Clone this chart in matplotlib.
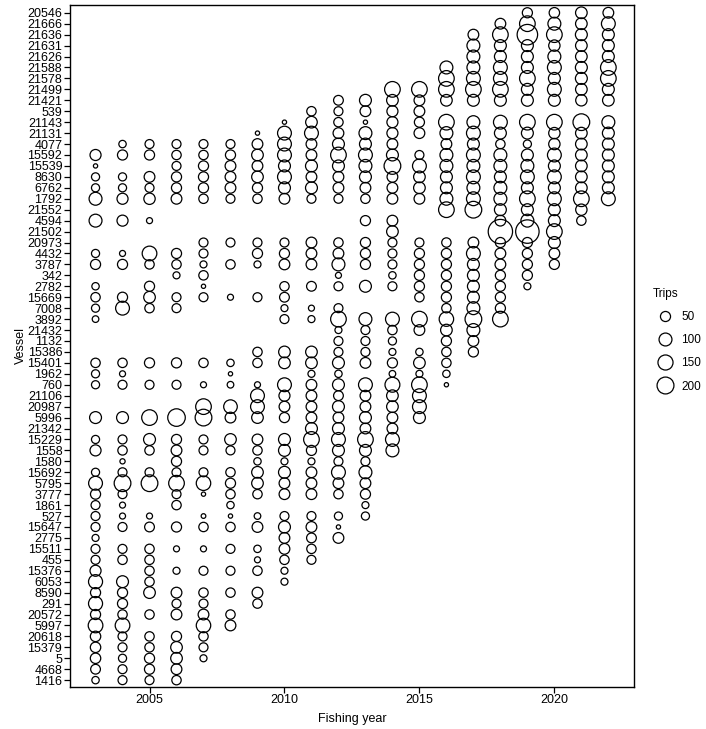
import numpy as np
import matplotlib.pyplot as plt
from matplotlib.lines import Line2D

plt.rcParams['font.family'] = ['Liberation Sans', 'DejaVu Sans']

vessels = ['20546', '21666', '21636', '21631', '21626', '21588', '21578', '21499',
           '21421', '539', '21143', '21131', '4077', '15592', '15539', '8630',
           '6762', '1792', '21552', '4594', '21502', '20973', '4432', '3787',
           '342', '2782', '15669', '7008', '3892', '21432', '1132', '15386',
           '15401', '1962', '760', '21106', '20987', '5996', '21342', '15229',
           '1558', '1580', '15692', '5795', '3777', '1861', '527', '15647',
           '2775', '15511', '455', '15376', '6053', '8590', '291', '20572',
           '5997', '20618', '15379', '5', '4668', '1416']

years = list(range(2003, 2023))

# trips per vessel (rows) and fishing year (columns 2003..2022); 0 = no trips
trips = [
    [0, 0, 0, 0, 0, 0, 0, 0, 0, 0, 0, 0, 0, 0, 0, 0, 50, 55, 75, 60],
    [0, 0, 0, 0, 0, 0, 0, 0, 0, 0, 0, 0, 0, 0, 0, 60, 165, 100, 75, 120],
    [0, 0, 0, 0, 0, 0, 0, 0, 0, 0, 0, 0, 0, 0, 60, 165, 320, 165, 80, 80],
    [0, 0, 0, 0, 0, 0, 0, 0, 0, 0, 0, 0, 0, 0, 100, 80, 80, 70, 75, 80],
    [0, 0, 0, 0, 0, 0, 0, 0, 0, 0, 0, 0, 0, 0, 100, 80, 80, 100, 75, 80],
    [0, 0, 0, 0, 0, 0, 0, 0, 0, 0, 0, 0, 0, 100, 100, 120, 80, 120, 80, 165],
    [0, 0, 0, 0, 0, 0, 0, 0, 0, 0, 0, 0, 0, 165, 120, 120, 165, 80, 80, 165],
    [0, 0, 0, 0, 0, 0, 0, 0, 0, 0, 0, 165, 165, 165, 165, 165, 80, 120, 75, 80],
    [0, 0, 0, 0, 0, 0, 0, 0, 0, 45, 80, 75, 60, 75, 80, 80, 80, 80, 70, 75],
    [0, 0, 0, 0, 0, 0, 0, 0, 40, 35, 60, 65, 60, 0, 0, 0, 0, 0, 0, 0],
    [0, 0, 0, 0, 0, 0, 0, 1, 75, 40, 1, 65, 50, 165, 100, 120, 165, 165, 195, 100],
    [0, 0, 0, 0, 0, 0, 1, 120, 120, 60, 100, 65, 60, 100, 120, 80, 80, 70, 75, 80],
    [0, 18, 35, 35, 35, 35, 60, 120, 60, 80, 80, 60, 0, 60, 80, 40, 25, 70, 75, 80],
    [65, 50, 50, 40, 40, 50, 75, 120, 60, 165, 120, 80, 35, 100, 120, 100, 80, 120, 75, 80],
    [1, 0, 0, 35, 50, 60, 60, 80, 80, 80, 100, 195, 120, 100, 100, 100, 100, 80, 75, 80],
    [25, 25, 60, 50, 50, 60, 75, 120, 60, 60, 80, 60, 75, 80, 120, 80, 120, 120, 75, 80],
    [25, 25, 35, 50, 50, 60, 50, 80, 80, 60, 60, 60, 75, 80, 100, 100, 80, 80, 75, 80],
    [100, 65, 70, 60, 40, 35, 40, 60, 35, 35, 40, 60, 60, 100, 120, 100, 165, 120, 165, 120],
    [0, 0, 0, 0, 0, 0, 0, 0, 0, 0, 0, 0, 0, 165, 195, 80, 80, 80, 70, 0],
    [100, 65, 8, 0, 0, 0, 0, 0, 0, 0, 50, 60, 0, 0, 0, 60, 100, 80, 40, 0],
    [0, 0, 0, 0, 0, 0, 0, 0, 0, 0, 0, 75, 0, 0, 0, 480, 440, 165, 0, 0],
    [0, 0, 0, 0, 35, 35, 35, 35, 60, 40, 50, 35, 35, 40, 60, 50, 50, 80, 0, 0],
    [25, 8, 140, 50, 35, 0, 50, 50, 60, 60, 50, 35, 50, 50, 120, 60, 50, 60, 0, 0],
    [50, 50, 40, 40, 15, 40, 15, 60, 60, 100, 50, 35, 50, 50, 80, 60, 50, 50, 0, 0],
    [0, 0, 0, 15, 40, 0, 0, 0, 0, 8, 0, 18, 50, 50, 80, 50, 50, 0, 0, 0],
    [18, 0, 50, 0, 1, 0, 0, 40, 45, 35, 80, 35, 50, 50, 80, 50, 15, 0, 0, 0],
    [40, 50, 75, 35, 35, 8, 35, 45, 0, 0, 0, 0, 40, 50, 80, 50, 0, 0, 0, 0],
    [25, 120, 40, 35, 0, 0, 0, 15, 8, 35, 0, 0, 0, 40, 100, 50, 0, 0, 0, 0],
    [12, 0, 0, 0, 0, 0, 0, 35, 15, 165, 100, 120, 165, 135, 195, 165, 0, 0, 0, 0],
    [0, 0, 0, 0, 0, 0, 0, 0, 0, 15, 35, 40, 60, 75, 100, 0, 0, 0, 0, 0],
    [0, 0, 0, 0, 0, 0, 0, 0, 0, 35, 35, 25, 0, 50, 60, 0, 0, 0, 0, 0],
    [0, 0, 0, 0, 0, 0, 40, 75, 75, 35, 35, 15, 18, 40, 50, 0, 0, 0, 0, 0],
    [40, 40, 50, 50, 40, 18, 40, 75, 75, 80, 60, 50, 75, 40, 0, 0, 0, 0, 0, 0],
    [25, 8, 0, 0, 0, 1, 0, 0, 15, 18, 0, 12, 15, 18, 0, 0, 0, 0, 0, 0],
    [25, 35, 35, 35, 8, 12, 8, 120, 60, 80, 120, 145, 165, 1, 0, 0, 0, 0, 0, 0],
    [0, 0, 0, 0, 0, 0, 120, 65, 60, 45, 60, 75, 120, 0, 0, 0, 0, 0, 0, 0],
    [0, 0, 0, 0, 165, 115, 120, 60, 60, 80, 60, 75, 120, 0, 0, 0, 0, 0, 0, 0],
    [80, 80, 165, 220, 195, 60, 75, 50, 60, 60, 80, 60, 80, 0, 0, 0, 0, 0, 0, 0],
    [0, 0, 0, 0, 0, 0, 0, 0, 80, 80, 60, 60, 0, 0, 0, 0, 0, 0, 0, 0],
    [25, 35, 80, 50, 35, 75, 60, 80, 165, 120, 165, 120, 0, 0, 0, 0, 0, 0, 0, 0],
    [65, 40, 40, 60, 35, 35, 40, 80, 50, 80, 80, 100, 0, 0, 0, 0, 0, 0, 0, 0],
    [0, 4, 0, 50, 0, 0, 18, 15, 15, 35, 35, 0, 0, 0, 0, 0, 0, 0, 0, 0],
    [25, 35, 35, 35, 35, 40, 75, 80, 60, 120, 100, 0, 0, 0, 0, 0, 0, 0, 0, 0],
    [120, 195, 195, 165, 135, 50, 75, 60, 60, 60, 60, 0, 0, 0, 0, 0, 0, 0, 0, 0],
    [50, 35, 0, 35, 1, 40, 40, 60, 60, 40, 50, 0, 0, 0, 0, 0, 0, 0, 0, 0],
    [35, 8, 0, 40, 0, 18, 0, 0, 0, 0, 15, 0, 0, 0, 0, 0, 0, 0, 0, 0],
    [35, 8, 8, 0, 2, 1, 12, 35, 35, 25, 25, 0, 0, 0, 0, 0, 0, 0, 0, 0],
    [35, 35, 45, 50, 40, 40, 60, 80, 60, 1, 0, 0, 0, 0, 0, 0, 0, 0, 0, 0],
    [15, 0, 0, 0, 0, 0, 0, 60, 45, 60, 0, 0, 0, 0, 0, 0, 0, 0, 0, 0],
    [35, 35, 40, 8, 8, 35, 18, 60, 40, 0, 0, 0, 0, 0, 0, 0, 0, 0, 0, 0],
    [35, 40, 40, 0, 0, 0, 8, 40, 35, 0, 0, 0, 0, 0, 0, 0, 0, 0, 0, 0],
    [65, 0, 40, 15, 35, 35, 40, 15, 0, 0, 0, 0, 0, 0, 0, 0, 0, 0, 0, 0],
    [125, 80, 40, 0, 0, 0, 0, 15, 0, 0, 0, 0, 0, 0, 0, 0, 0, 0, 0, 0],
    [50, 50, 75, 60, 40, 40, 60, 0, 0, 0, 0, 0, 0, 0, 0, 0, 0, 0, 0, 0],
    [125, 50, 0, 35, 35, 0, 40, 0, 0, 0, 0, 0, 0, 0, 0, 0, 0, 0, 0, 0],
    [50, 40, 40, 60, 60, 40, 0, 0, 0, 0, 0, 0, 0, 0, 0, 0, 0, 0, 0, 0],
    [140, 140, 0, 0, 135, 60, 0, 0, 0, 0, 0, 0, 0, 0, 0, 0, 0, 0, 0, 0],
    [55, 35, 40, 50, 40, 0, 0, 0, 0, 0, 0, 0, 0, 0, 0, 0, 0, 0, 0, 0],
    [55, 35, 40, 75, 35, 0, 0, 0, 0, 0, 0, 0, 0, 0, 0, 0, 0, 0, 0, 0],
    [55, 25, 50, 75, 15, 0, 0, 0, 0, 0, 0, 0, 0, 0, 0, 0, 0, 0, 0, 0],
    [45, 35, 50, 60, 0, 0, 0, 0, 0, 0, 0, 0, 0, 0, 0, 0, 0, 0, 0, 0],
    [18, 35, 35, 40, 0, 0, 0, 0, 0, 0, 0, 0, 0, 0, 0, 0, 0, 0, 0, 0],
]

legend_trips = [50, 100, 150, 200]


def bubble_area(v):
    # circle diameter in pixels grows with sqrt(trips); convert to points^2
    d_px = 3.3 + 0.96 * np.sqrt(np.asarray(v, dtype=float))
    return (d_px * 0.72) ** 2


df = np.array(trips)
rows, cols = np.nonzero(df)
xs = np.array(years)[cols]
vals = df[rows, cols]

fig = plt.figure(figsize=(7.06, 7.29), dpi=100)
ax = fig.add_axes([0.099, 0.058, 0.799, 0.935])

ax.scatter(xs, rows, s=bubble_area(vals), facecolors='none',
           edgecolors='black', linewidths=0.9)

ax.set_xlim(2002.05, 2022.95)
ax.set_ylim(len(vessels) - 0.4, -0.7)
ax.set_yticks(range(len(vessels)))
ax.set_yticklabels(vessels)
ax.set_xticks([2005, 2010, 2015, 2020])
ax.tick_params(axis='both', labelsize=9, length=4, width=0.9, pad=1.5)
for s in ax.spines.values():
    s.set_linewidth(1.0)
ax.set_xlabel('Fishing year', fontsize=9, labelpad=5)
ax.set_ylabel('Vessel', fontsize=9, labelpad=0)

handles = [Line2D([], [], linestyle='none', marker='o', markerfacecolor='none',
                  markeredgecolor='black', markeredgewidth=0.9,
                  markersize=np.sqrt(bubble_area(t))) for t in legend_trips]
fig.legend(handles, [str(t) for t in legend_trips], title='Trips',
           loc='upper left', bbox_to_anchor=(0.91, 0.62), frameon=False,
           fontsize=8.5, title_fontsize=8.5, labelspacing=0.95,
           handletextpad=0.4, alignment='left')

fig.savefig('out.png', dpi=100)
